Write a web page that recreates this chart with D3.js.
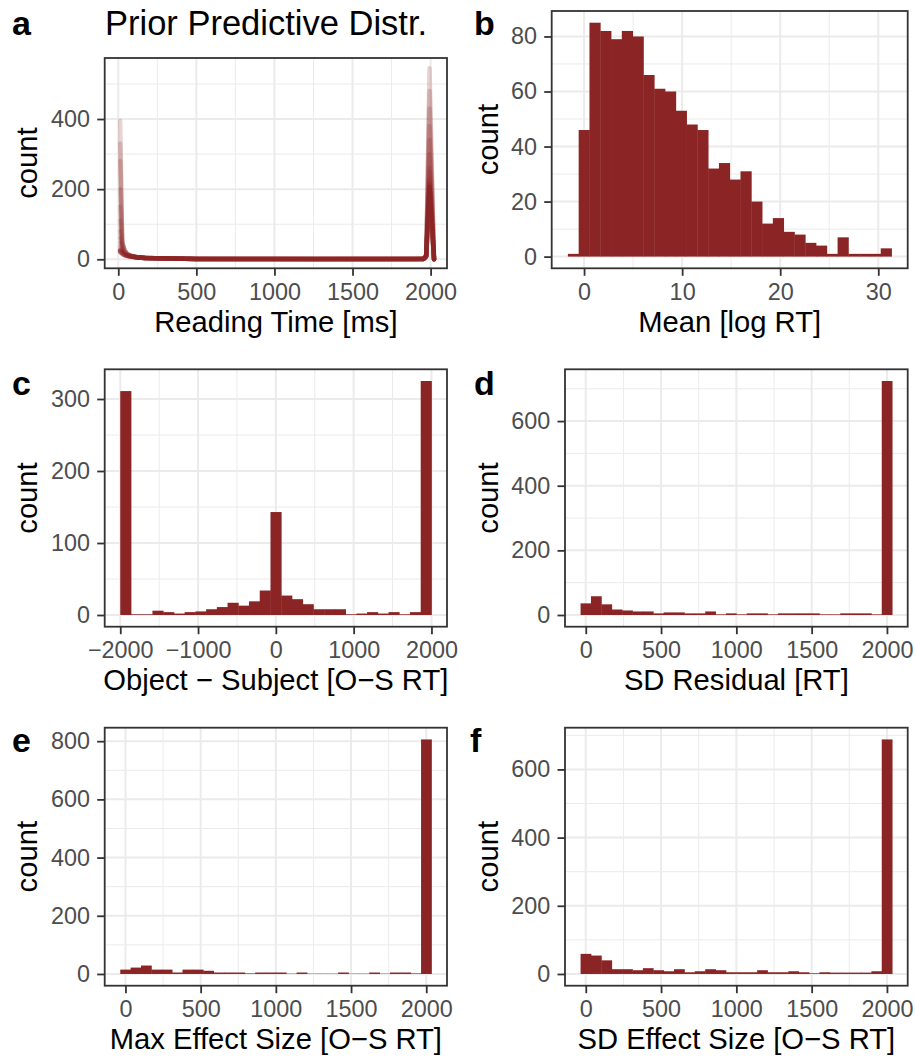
<!DOCTYPE html>
<html><head><meta charset="utf-8">
<script src="https://cdn.jsdelivr.net/npm/d3@7"></script>
<style>
body{margin:0;background:#fff}
svg{display:block}
text{font-family:"Liberation Sans",Arial,Helvetica,sans-serif}
</style>
</head><body>
<svg id="chart" width="915" height="1057"></svg>
<script>
// ---------------- DATA ----------------
// Panel a: prior predictive frequency polygons (one array per draw), at these reading times
const rtGrid = [12, 25, 40, 60, 85, 120, 170, 240, 350, 500, 750, 1000, 1250, 1500, 1750, 1900, 1955, 1972, 1993, 2022];
const rtDraws = [
  [22, 16, 12, 10, 8, 6, 4, 3, 2, 1, 1, 1, 1, 1, 1, 1, 1, 8, 205, 0],
  [25, 18, 13, 9, 7, 5, 4, 3, 2, 2, 1, 1, 1, 1, 1, 1, 2, 12, 210, 0],
  [20, 15, 11, 9, 7, 6, 5, 3, 2, 1, 1, 1, 0, 1, 1, 1, 1, 6, 200, 0],
  [28, 20, 14, 10, 8, 6, 4, 3, 2, 1, 1, 1, 1, 1, 1, 1, 1, 10, 215, 0],
  [35, 22, 15, 11, 8, 6, 4, 3, 2, 1, 1, 1, 1, 0, 1, 1, 1, 9, 230, 0],
  [45, 25, 16, 11, 8, 5, 4, 3, 2, 1, 1, 1, 1, 1, 1, 1, 2, 14, 260, 0],
  [60, 28, 17, 12, 8, 6, 4, 3, 2, 1, 1, 1, 1, 1, 1, 1, 1, 10, 300, 0],
  [80, 32, 18, 12, 8, 6, 4, 3, 2, 1, 1, 1, 0, 1, 1, 1, 1, 12, 340, 0],
  [110, 36, 20, 12, 9, 6, 4, 3, 2, 1, 1, 1, 1, 1, 0, 1, 1, 8, 380, 0],
  [150, 40, 22, 13, 9, 6, 4, 3, 2, 1, 1, 1, 1, 1, 1, 1, 1, 11, 430, 0],
  [200, 45, 24, 14, 9, 6, 4, 3, 2, 1, 1, 1, 1, 1, 1, 1, 1, 9, 480, 0],
  [280, 50, 25, 14, 9, 6, 4, 3, 2, 1, 1, 1, 1, 1, 1, 1, 1, 10, 545, 0],
  [395, 55, 26, 15, 10, 7, 5, 3, 2, 1, 1, 1, 1, 1, 1, 1, 1, 7, 250, 0],
  [330, 48, 24, 14, 9, 6, 4, 3, 2, 1, 1, 1, 1, 1, 1, 1, 1, 9, 220, 0],
  [24, 17, 12, 9, 7, 5, 4, 3, 2, 1, 1, 1, 1, 1, 1, 1, 1, 11, 208, 0],
  [23, 17, 12, 9, 7, 5, 4, 3, 2, 1, 1, 1, 1, 1, 1, 1, 1, 10, 203, 0],
  [26, 18, 13, 10, 7, 5, 4, 3, 2, 1, 1, 1, 1, 1, 1, 1, 1, 9, 206, 0],
  [21, 16, 12, 9, 7, 5, 4, 3, 2, 1, 1, 1, 1, 1, 1, 1, 1, 8, 202, 0]
];

// Panel b: Mean [log RT] histogram (30 bins)
const meanBinStart = -1.65, meanBinWidth = 1.1;
const meanCounts = [1, 46, 85, 82, 79, 82, 80, 66, 61, 60, 53, 48, 46, 32, 34, 28, 31, 20, 12, 14, 9, 8, 5, 4, 1, 7, 1, 1, 1, 3];

// Panel c: Object - Subject (29 bins from -2000 to 2000)
const diffBinStart = -2000, diffBinWidth = 4000 / 29;
const diffCounts = [311, 1, 1, 6, 4, 2, 4, 5, 8, 11, 17, 13, 19, 34, 143, 27, 22, 15, 8, 8, 8, 1, 2, 4, 2, 4, 1, 4, 325];

// Panels d, e, f: 30 bins centred on 0 ... 2000
const rtBinStart = -1000 / 29, rtBinWidth = 2000 / 29;
const sdResidualCounts = [36, 58, 33, 17, 14, 11, 11, 5, 8, 8, 5, 5, 11, 2, 5, 2, 5, 5, 2, 5, 5, 5, 5, 2, 2, 5, 5, 5, 2, 724];
const maxEffectCounts = [15, 22, 29, 15, 15, 5, 15, 15, 11, 5, 5, 5, 2, 5, 5, 5, 1, 5, 1, 1, 1, 5, 1, 1, 5, 1, 5, 5, 2, 806];
const sdEffectCounts = [59, 54, 40, 14, 14, 11, 17, 11, 8, 14, 5, 8, 14, 11, 5, 5, 5, 11, 5, 5, 8, 5, 2, 5, 4, 4, 4, 4, 8, 688];

// Tick values
const rtTicks = [0, 500, 1000, 1500, 2000];
const rtMinor = [250, 750, 1250, 1750];
const diffTicks = [-2000, -1000, 0, 1000, 2000];
const diffMinor = [-1500, -500, 500, 1500];
const meanTicks = [0, 10, 20, 30];
const meanMinor = [5, 15, 25];

// ---------------- STYLE ----------------
const FILL = "#8B2525";
const GRID = "#EBEBEB";
const DARK = "#333333";
const TICKTXT = "#4D4D4D";
const TICK_FS = 23.4, TITLE_FS = 29.2;

const svg = d3.select("#chart");

function panel(cfg) {
  const g = svg.append("g");
  const x = d3.scaleLinear().domain(cfg.xDomain).range([cfg.x0, cfg.x1]);
  const y = d3.scaleLinear().domain(cfg.yDomain).range([cfg.y1, cfg.y0]);
  g.append("rect").attr("x", cfg.x0).attr("y", cfg.y0)
    .attr("width", cfg.x1 - cfg.x0).attr("height", cfg.y1 - cfg.y0).attr("fill", "#fff");
  const gr = g.append("g");
  cfg.xMinor.forEach(v => gr.append("line").attr("x1", x(v)).attr("x2", x(v)).attr("y1", cfg.y0).attr("y2", cfg.y1)
    .attr("stroke", GRID).attr("stroke-width", 1));
  cfg.yMinor.forEach(v => gr.append("line").attr("y1", y(v)).attr("y2", y(v)).attr("x1", cfg.x0).attr("x2", cfg.x1)
    .attr("stroke", GRID).attr("stroke-width", 1));
  cfg.xTicks.forEach(v => gr.append("line").attr("x1", x(v)).attr("x2", x(v)).attr("y1", cfg.y0).attr("y2", cfg.y1)
    .attr("stroke", GRID).attr("stroke-width", 2));
  cfg.yTicks.forEach(v => gr.append("line").attr("y1", y(v)).attr("y2", y(v)).attr("x1", cfg.x0).attr("x2", cfg.x1)
    .attr("stroke", GRID).attr("stroke-width", 2));

  cfg.draw(g.append("g"), x, y);

  g.append("rect").attr("x", cfg.x0).attr("y", cfg.y0)
    .attr("width", cfg.x1 - cfg.x0).attr("height", cfg.y1 - cfg.y0)
    .attr("fill", "none").attr("stroke", DARK).attr("stroke-width", 1.8);

  const fmt = d3.format("d");
  const xa = g.append("g").attr("transform", `translate(0,${cfg.y1})`)
    .call(d3.axisBottom(x).tickValues(cfg.xTicks).tickFormat(fmt).tickSize(7.5).tickSizeOuter(0).tickPadding(7.6));
  const ya = g.append("g").attr("transform", `translate(${cfg.x0},0)`)
    .call(d3.axisLeft(y).tickValues(cfg.yTicks).tickFormat(fmt).tickSize(7.5).tickSizeOuter(0).tickPadding(7.2));
  [xa, ya].forEach(a => {
    a.select(".domain").remove();
    a.selectAll(".tick line").attr("stroke", DARK).attr("stroke-width", 1.8);
    a.selectAll(".tick text").attr("fill", TICKTXT).style("font-size", TICK_FS + "px")
      .style("font-family", '"Liberation Sans",Arial,sans-serif');
  });

  g.append("text").attr("x", (cfg.x0 + cfg.x1) / 2).attr("y", cfg.y1 + 63.5)
    .attr("text-anchor", "middle").style("font-size", TITLE_FS + "px").attr("fill", "#000").text(cfg.xLabel);
  g.append("text").attr("transform", `translate(${cfg.x0 - cfg.yTitleOff},${(cfg.y0 + cfg.y1) / 2}) rotate(-90)`)
    .attr("text-anchor", "middle").style("font-size", TITLE_FS + "px").attr("fill", "#000").text("count");

  g.append("text").attr("x", cfg.tagX).attr("y", cfg.tagY)
    .style("font-size", "34px").style("font-weight", "bold").attr("fill", "#000").text(cfg.tag);
}

function histDraw(counts, start, width) {
  return (g, x, y) => {
    const bins = counts.map((c, i) => ({ a: start + i * width, b: start + (i + 1) * width, c }));
    g.selectAll("rect").data(bins.filter(d => d.c > 0)).join("rect")
      .attr("x", d => x(d.a))
      .attr("width", d => x(d.b) - x(d.a) + 0.4)
      .attr("y", d => y(d.c))
      .attr("height", d => y(0) - y(d.c))
      .attr("fill", FILL);
  };
}

// Panel a
panel({
  tag: "a", tagX: 12, tagY: 35,
  x0: 104.7, x1: 447, y0: 58, y1: 268.3,
  xDomain: [-87, 2105], yDomain: [-25.7, 574],
  xTicks: rtTicks, xMinor: rtMinor, yTicks: [0, 200, 400], yMinor: [100, 300, 500],
  xLabel: "Reading Time [ms]", yTitleOff: 67.5,
  draw: (g, x, y) => {
    const line = d3.line().x((d, i) => x(rtGrid[i])).y(d => y(d));
    g.selectAll("path").data(rtDraws).join("path")
      .attr("d", d => line(d))
      .attr("fill", "none").attr("stroke", FILL).attr("stroke-width", 4.5)
      .attr("stroke-opacity", 0.2).attr("stroke-linejoin", "round").attr("stroke-linecap", "round");
  }
});
svg.append("text").attr("x", 105).attr("y", 35).style("font-size", "34.5px").attr("fill", "#000")
  .text("Prior Predictive Distr.");

// Panel b
panel({
  tag: "b", tagX: 474, tagY: 35,
  x0: 551.7, x1: 907.7, y0: 11, y1: 268.3,
  xDomain: [-3.3, 33.0], yDomain: [-4.25, 89.25],
  xTicks: meanTicks, xMinor: meanMinor, yTicks: [0, 20, 40, 60, 80], yMinor: [10, 30, 50, 70],
  xLabel: "Mean [log RT]", yTitleOff: 54,
  draw: histDraw(meanCounts, meanBinStart, meanBinWidth)
});

// Panel c
panel({
  tag: "c", tagX: 12, tagY: 394.5,
  x0: 104.7, x1: 447, y0: 369.3, y1: 626.7,
  xDomain: [-2200, 2200], yDomain: [-16.25, 341.25],
  xTicks: diffTicks, xMinor: diffMinor, yTicks: [0, 100, 200, 300], yMinor: [50, 150, 250],
  xLabel: "Object \u2212 Subject [O\u2212S RT]", yTitleOff: 67.5,
  draw: histDraw(diffCounts, diffBinStart, diffBinWidth)
});

// Panel d
panel({
  tag: "d", tagX: 474, tagY: 394.5,
  x0: 565, x1: 907.7, y0: 369.3, y1: 626.7,
  xDomain: [-137.9, 2137.9], yDomain: [-36.2, 760.2],
  xTicks: rtTicks, xMinor: rtMinor, yTicks: [0, 200, 400, 600], yMinor: [100, 300, 500, 700],
  xLabel: "SD Residual [RT]", yTitleOff: 67,
  draw: histDraw(sdResidualCounts, rtBinStart, rtBinWidth)
});

// Panel e
panel({
  tag: "e", tagX: 12, tagY: 752,
  x0: 104.7, x1: 447, y0: 727.7, y1: 985.7,
  xDomain: [-137.9, 2137.9], yDomain: [-40.3, 846.3],
  xTicks: rtTicks, xMinor: rtMinor, yTicks: [0, 200, 400, 600, 800], yMinor: [100, 300, 500, 700],
  xLabel: "Max Effect Size [O\u2212S RT]", yTitleOff: 67.5,
  draw: histDraw(maxEffectCounts, rtBinStart, rtBinWidth)
});

// Panel f
panel({
  tag: "f", tagX: 470, tagY: 752,
  x0: 565, x1: 907.7, y0: 727.7, y1: 985.7,
  xDomain: [-137.9, 2137.9], yDomain: [-34.4, 722.4],
  xTicks: rtTicks, xMinor: rtMinor, yTicks: [0, 200, 400, 600], yMinor: [100, 300, 500, 700],
  xLabel: "SD Effect Size [O\u2212S RT]", yTitleOff: 67,
  draw: histDraw(sdEffectCounts, rtBinStart, rtBinWidth)
});
</script>
</body></html>
